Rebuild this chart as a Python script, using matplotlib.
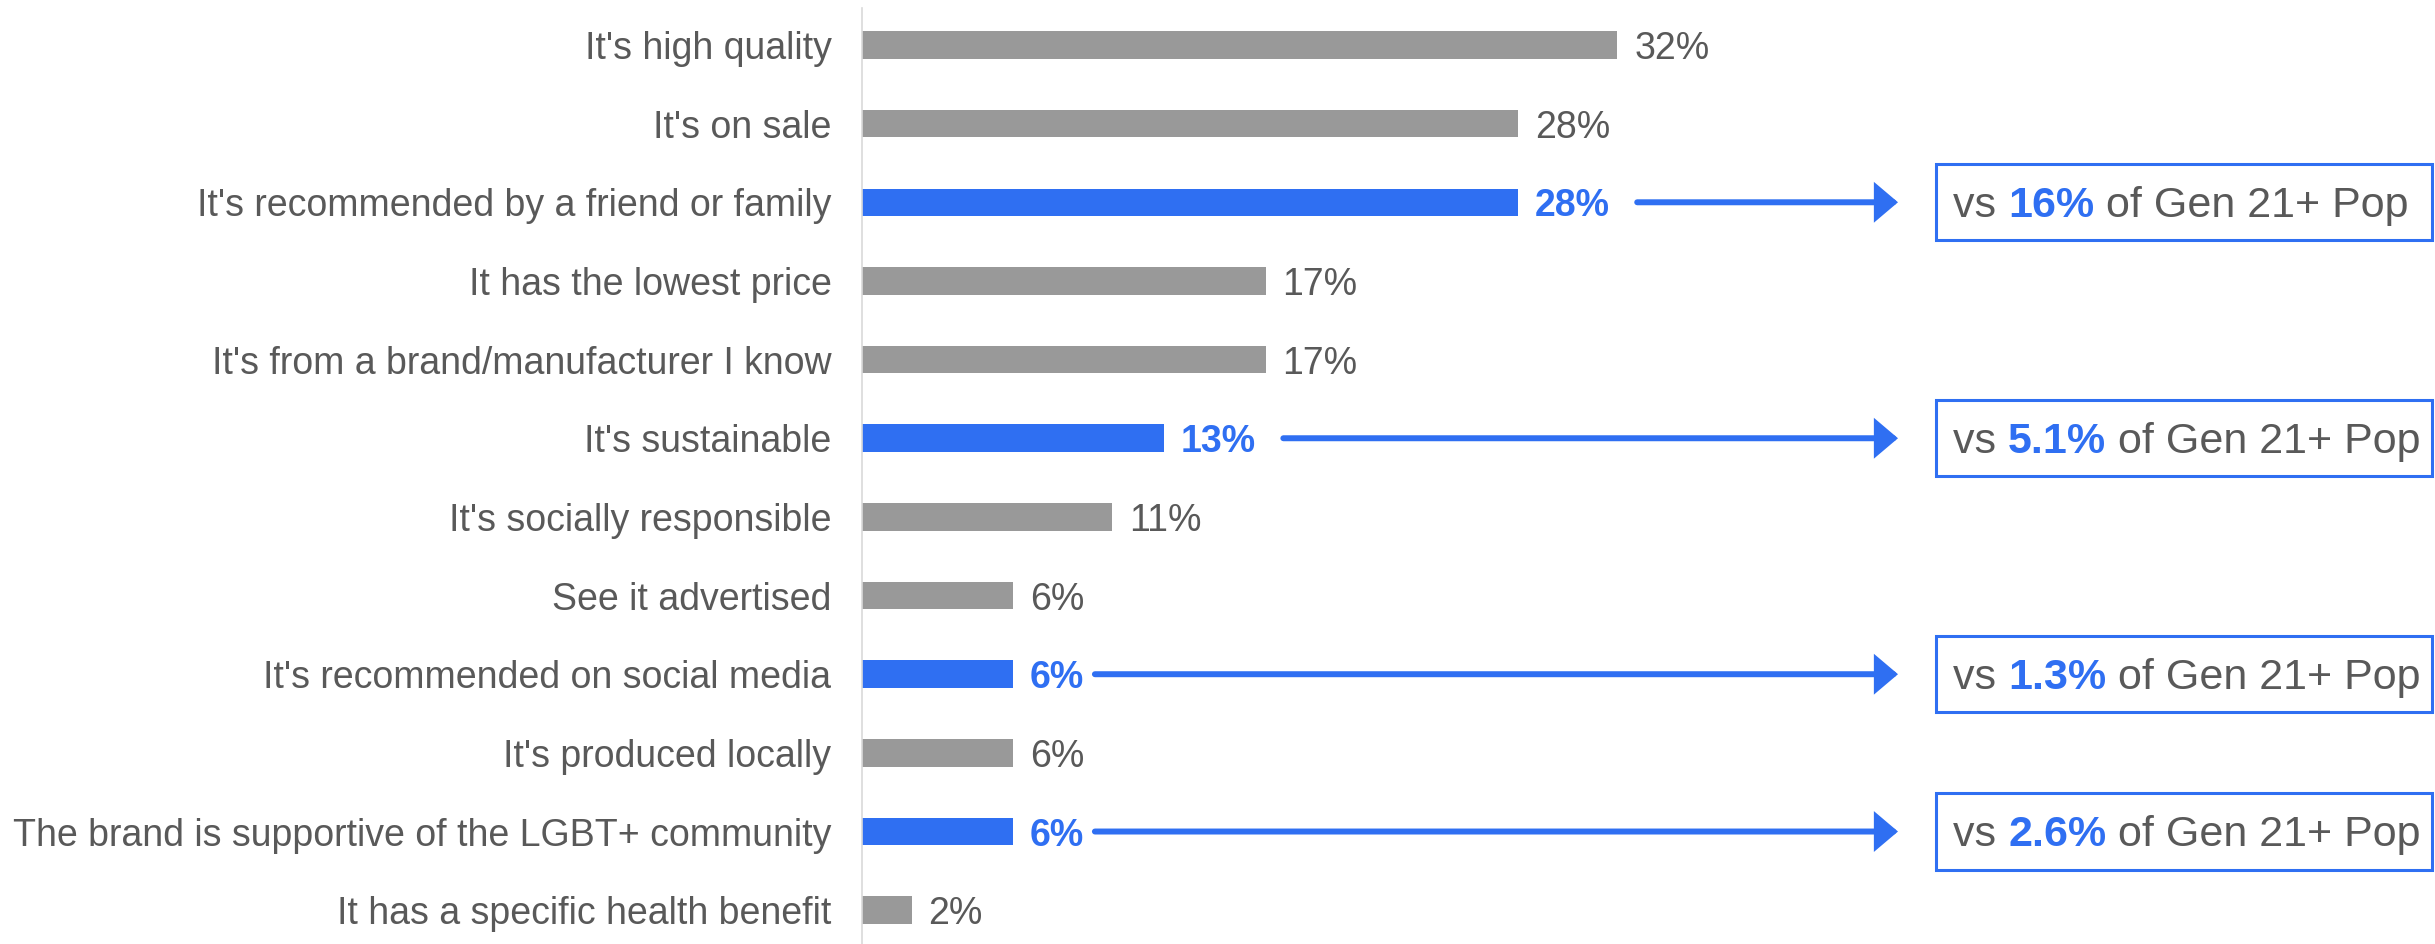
import matplotlib; matplotlib.use("Agg")
import matplotlib.pyplot as plt
from matplotlib.patches import Rectangle

plt.rcParams["font.family"] = ["Liberation Sans", "DejaVu Sans"]

categories = ["It's high quality", "It's on sale", "It's recommended by a friend or family",
              "It has the lowest price", "It's from a brand/manufacturer I know", "It's sustainable",
              "It's socially responsible", "See it advertised", "It's recommended on social media",
              "It's produced locally", "The brand is supportive of the LGBT+ community",
              "It has a specific health benefit"]
values = [32.0, 27.8, 27.8, 17.1, 17.1, 12.8, 10.6, 6.4, 6.4, 6.4, 6.4, 2.1]
labels = ["32%", "28%", "28%", "17%", "17%", "13%", "11%", "6%", "6%", "6%", "6%", "2%"]
highlight = [False, False, True, False, False, True, False, False, True, False, True, False]
# comparison vs Gen 21+ population for highlighted rows
compare = {2: "16%", 5: "5.1%", 8: "1.3%", 10: "2.6%"}

GREY = "#999999"; BLUE = "#2F6FF2"; TXT = "#595959"

fig = plt.figure(figsize=(24.35, 9.44), dpi=100)
ax = fig.add_axes([862/2435, 0, 1-862/2435, 936/944])
n = len(categories)
ax.barh(range(n), values, height=0.35, color=[BLUE if h else GREY for h in highlight])
ax.set_xlim(0, (2435-862)/23.6); ax.set_ylim(n-0.57, -0.47)
ax.set_yticks(range(n)); ax.set_yticklabels(categories, fontsize=27, color=TXT)
ax.tick_params(axis="y", length=0, pad=22); ax.set_xticks([])
for s in ["top", "right", "bottom"]: ax.spines[s].set_visible(False)
ax.spines["left"].set_color("#d9d9d9"); ax.spines["left"].set_linewidth(1.2)

tip = (1898-862)/23.6
bx0 = (1936-862)/23.6; bx1 = (2432-862)/23.6
hl_texts = {}
for i, (v, lab, h) in enumerate(zip(values, labels, highlight)):
    t = ax.text(v+0.72, i, lab, va="center_baseline", ha="left", fontsize=27,
                color=BLUE if h else TXT, weight="bold" if h else "normal")
    if h: hl_texts[i] = t

fig.canvas.draw()
inv = ax.transData.inverted()
for i, t in hl_texts.items():
    x_end = inv.transform((t.get_window_extent().x1, 0))[0]
    gap = 1.15 if len(t.get_text()) > 2 else 0.45
    ax.annotate("", xy=(tip, i), xytext=(x_end+gap, i),
                arrowprops=dict(arrowstyle="-|>,head_length=0.85,head_width=0.72", color=BLUE, lw=4.3,
                                mutation_scale=14, joinstyle="miter", shrinkA=0, shrinkB=0))
    ax.add_patch(Rectangle((bx0, i-0.485), bx1-bx0, 0.97, fill=False, edgecolor=BLUE, lw=2.2, clip_on=False))
    s = ax.text(bx0+0.73, i+0.19, "vs ", va="baseline", ha="left", fontsize=31, color=TXT)
    s = ax.annotate(compare[i], xycoords=s, xy=(1, 0), va="bottom", fontsize=31, color=BLUE, weight="bold")
    ax.annotate(" of Gen 21+ Pop", xycoords=s, xy=(1, 0), va="bottom", fontsize=31, color=TXT)

fig.savefig("out.png", dpi=100)
